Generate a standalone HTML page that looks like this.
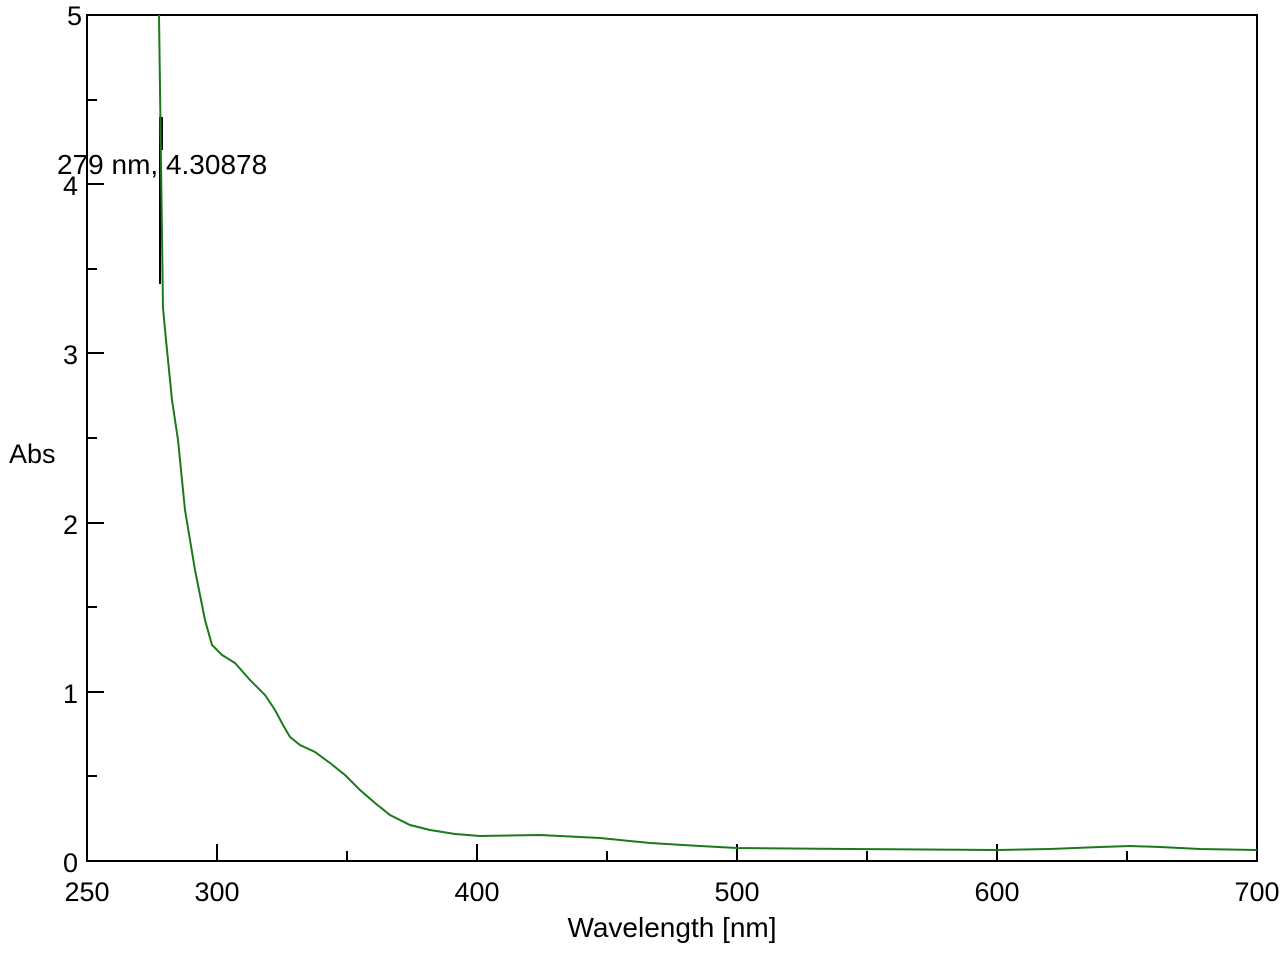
<!DOCTYPE html>
<html><head><meta charset="utf-8"><style>
html,body{margin:0;padding:0;background:#fff;}
text{font-family:"Liberation Sans",Arial,sans-serif;fill:#000;}
</style></head><body>
<svg width="1285" height="951" xmlns="http://www.w3.org/2000/svg">
<rect width="1285" height="951" fill="#fff"/>
<g stroke="#000" stroke-width="2" fill="none">
<path d="M87,15 H1257 V861 H87 Z"/>
<path d="M87,15h17 M87,100h10 M87,184h17 M87,269h10 M87,353h17 M87,438h10 M87,523h17 M87,607h10 M87,692h17 M87,776h10"/>
<path d="M217,861v-17 M347,861v-10 M477,861v-17 M607,861v-10 M737,861v-17 M867,861v-10 M997,861v-17 M1127,861v-10"/>
</g>
<g font-size="27">
<text x="82" y="25" text-anchor="end">5</text>
<text x="78" y="195" text-anchor="end">4</text>
<text x="78" y="364" text-anchor="end">3</text>
<text x="78" y="534" text-anchor="end">2</text>
<text x="78" y="703" text-anchor="end">1</text>
<text x="78" y="872" text-anchor="end">0</text>
<text x="87" y="901" text-anchor="middle">250</text>
<text x="217" y="901" text-anchor="middle">300</text>
<text x="477" y="901" text-anchor="middle">400</text>
<text x="737" y="901" text-anchor="middle">500</text>
<text x="997" y="901" text-anchor="middle">600</text>
<text x="1257" y="901" text-anchor="middle">700</text>
<text x="672" y="937" text-anchor="middle" font-size="28">Wavelength [nm]</text>
<text x="9" y="463">Abs</text>
<text x="57" y="174" font-size="28">279 nm, 4.30878</text>
</g>
<path d="M160,117V284 M162,117V150" stroke="#000" stroke-width="2" fill="none"/>
<polyline fill="none" stroke="#1a7a1a" stroke-width="2" points="159,15 163,308 166,340 172,400 175,420 178,440 185,510 195,570 205,620 212,645 222,655 235,663 250,680 265,695 275,710 283,725 290,737 300,745 315,752 330,763 345,775 360,790 375,803 390,815 410,825 430,830 455,834 480,836 540,835 600,838 650,843 700,846 737,848 850,849 997,850 1050,849 1100,847 1130,846 1160,847 1200,849 1257,850"/>
</svg>
</body></html>
